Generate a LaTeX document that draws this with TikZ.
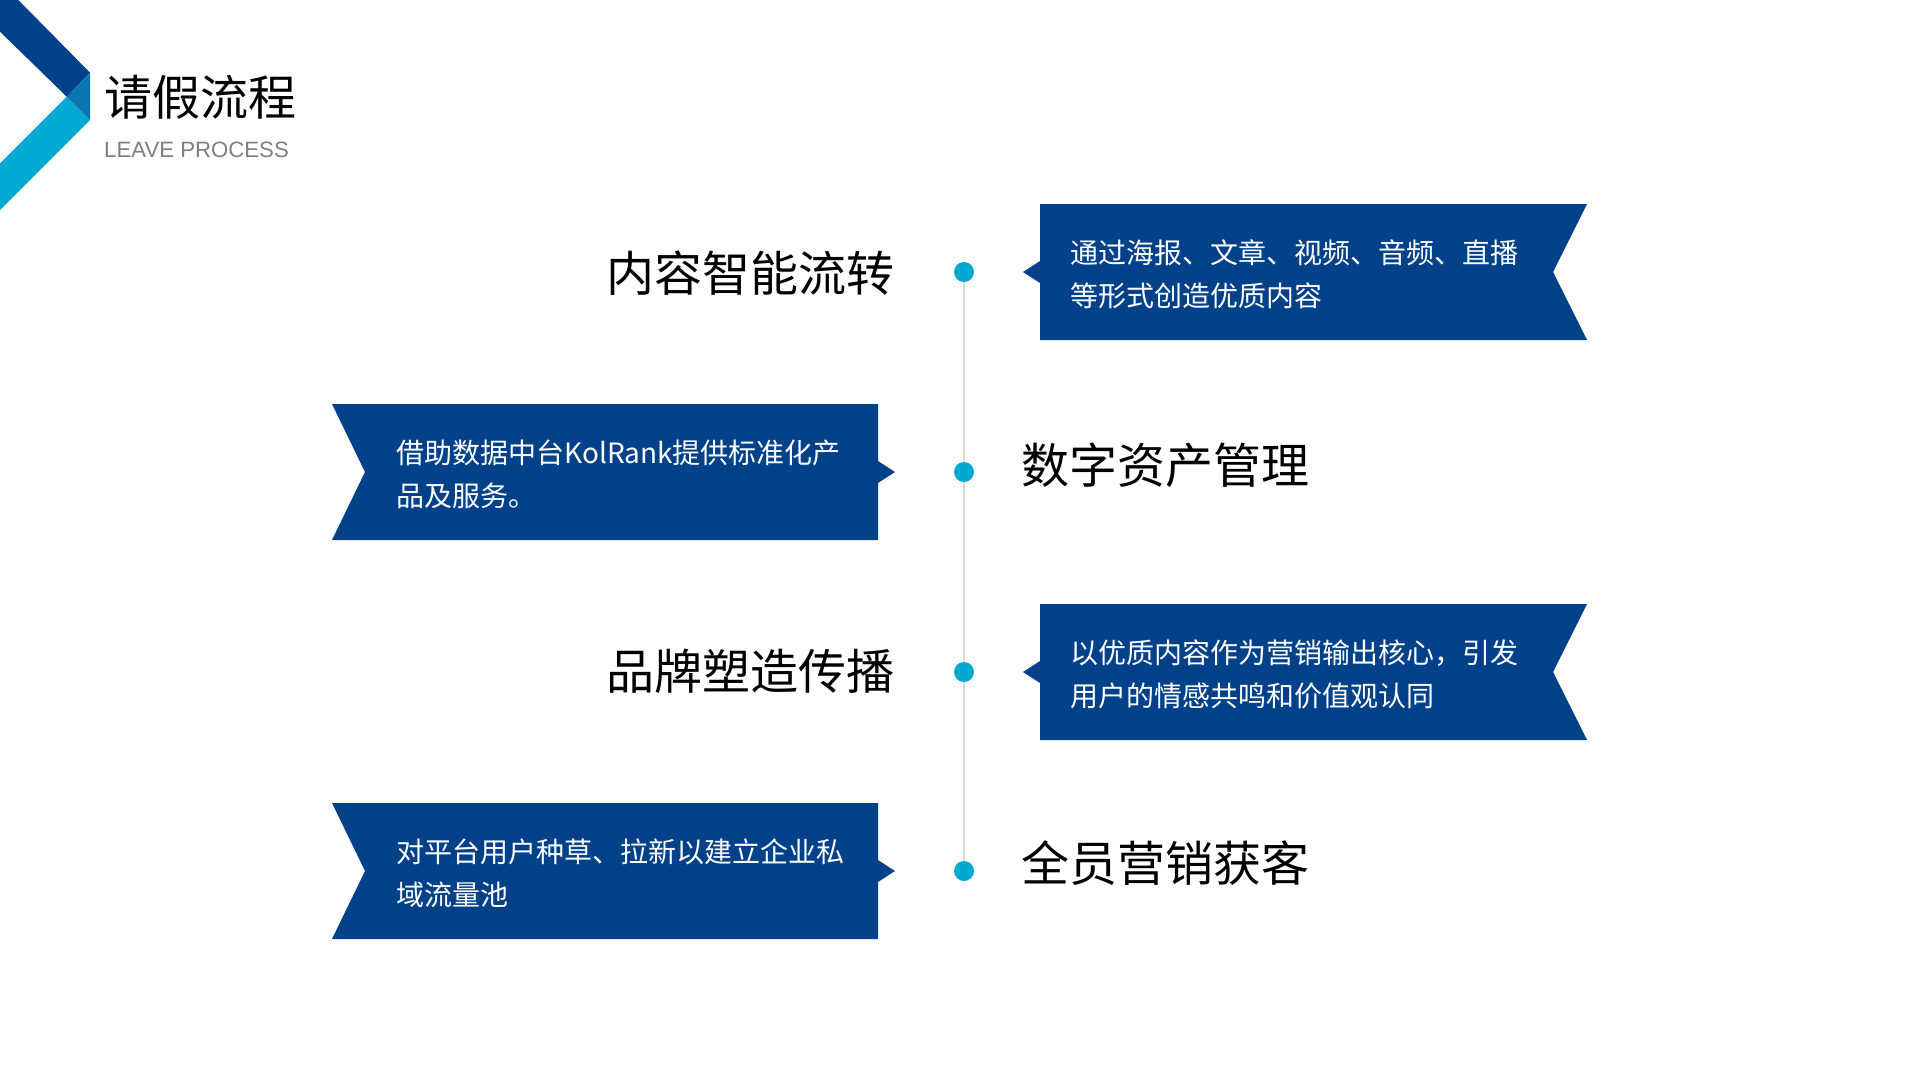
\documentclass[tikz,border=0pt]{standalone}
\usepackage{fontspec}
\usetikzlibrary{backgrounds}
\newfontfamily\cjk{Noto Sans CJK SC}
\newfontfamily\lat{Liberation Sans}
\definecolor{dblue}{HTML}{00418A}
\definecolor{mteal}{HTML}{0A76AE}
\definecolor{lcyan}{HTML}{00AAD2}
\definecolor{dotc}{HTML}{00A9D0}
\definecolor{lgray}{HTML}{D9D9D9}
\definecolor{subgray}{HTML}{7F7F7F}
\tikzset{
  heading/.style={inner sep=0pt, font=\cjk\fontsize{48}{58}\selectfont, text=black},
  boxtext/.style={inner sep=0pt, font=\cjk\fontsize{28}{40}\selectfont, text=white},
  dotstyle/.style={circle, fill=dotc, inner sep=0pt, minimum size=20pt},
  ribbon/.style={fill=dblue, draw=none},
}
\begin{document}
\begin{tikzpicture}[x=1pt,y=-1pt]
\useasboundingbox (0,0) rectangle (1920,1080);
% timeline dots
\node[dotstyle] (d1) at (964,272) {};
\node[dotstyle] (d2) at (964,472) {};
\node[dotstyle] (d3) at (964,672) {};
\node[dotstyle] (d4) at (964,871) {};
\begin{scope}[on background layer]
  \fill[white] (0,0) rectangle (1920,1080);
  \draw[lgray, line width=2pt] (d1.center) -- (d4.center);
\end{scope}
% corner chevron
\fill[dblue] (0,0) -- (18.3,0) -- (90,72.7) -- (66.7,96.7) -- (0,31.7) -- cycle;
\fill[lcyan] (66.7,96.7) -- (90,120) -- (0,210) -- (0,163.3) -- cycle;
\fill[mteal] (66.7,96.7) -- (90,72.7) -- (90,120) -- cycle;
% title
\node[inner sep=0pt, anchor=base west, font=\cjk\fontsize{48}{58}\selectfont] (title) at (104,115) {请假流程};
\node[inner sep=0pt, anchor=base west, font=\lat\fontsize{22.2}{26}\selectfont, text=subgray] (subtitle) at (104,157) {LEAVE PROCESS};
% right ribbons
\foreach \c in {272,672}{
  \fill[ribbon] (1040,\c-68) -- (1587,\c-68) -- (1553,\c) -- (1587,\c+68) -- (1040,\c+68) -- (1040,\c+11) -- (1023,\c) -- (1040,\c-11) -- cycle;
}
% left ribbons
\foreach \c in {472,871}{
  \fill[ribbon] (332,\c-68) -- (878,\c-68) -- (878,\c-11) -- (895,\c) -- (878,\c+11) -- (878,\c+68) -- (332,\c+68) -- (365,\c) -- cycle;
}
% headings
\node[heading, anchor=base east] (h1) at (895,291) {内容智能流转};
\node[heading, anchor=base west] (h2) at (1021,483) {数字资产管理};
\node[heading, anchor=base east] (h3) at (895,689) {品牌塑造传播};
\node[heading, anchor=base west] (h4) at (1021,881) {全员营销获客};
% box texts
\node[boxtext, anchor=base west] (t1a) at (1070,263) {通过海报、文章、视频、音频、直播};
\node[boxtext, anchor=base west] (t1b) at (1070,306) {等形式创造优质内容};
\node[boxtext, anchor=base west] (t2a) at (396,463) {借助数据中台KolRank提供标准化产};
\node[boxtext, anchor=base west] (t2b) at (396,506) {品及服务。};
\node[boxtext, anchor=base west] (t3a) at (1070,663) {以优质内容作为营销输出核心，引发};
\node[boxtext, anchor=base west] (t3b) at (1070,706) {用户的情感共鸣和价值观认同};
\node[boxtext, anchor=base west] (t4a) at (396,862) {对平台用户种草、拉新以建立企业私};
\node[boxtext, anchor=base west] (t4b) at (396,905) {域流量池};
\end{tikzpicture}
\end{document}
